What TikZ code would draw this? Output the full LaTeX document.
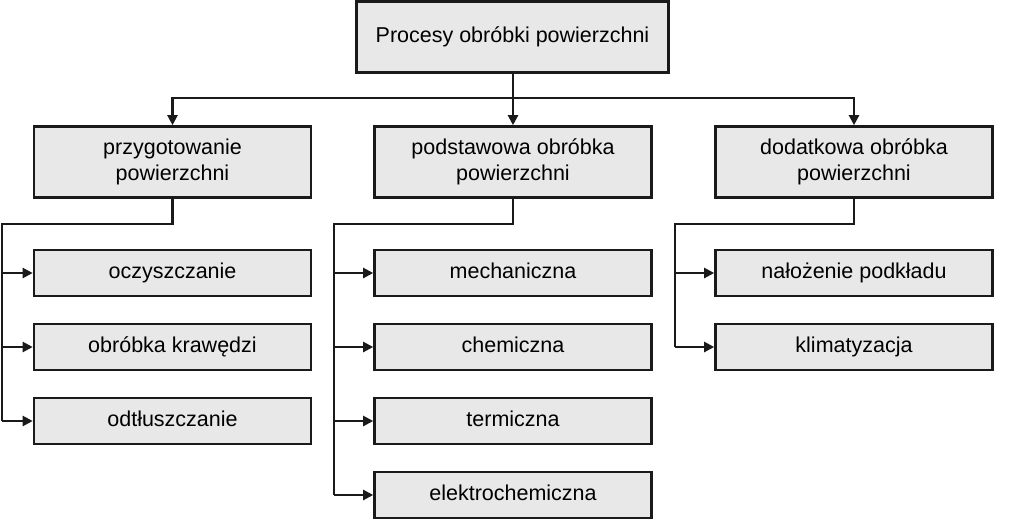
\documentclass[tikz,border=0pt]{standalone}
\usepackage{fontspec}
\setmainfont{Liberation Sans}
\usetikzlibrary{arrows.meta, positioning, calc}
\definecolor{BoxGray}{HTML}{E8E8E8}
\definecolor{LineBlack}{HTML}{1A1A1A}
\tikzset{
    % Box styles with sharp corners
    process box/.style={
        rectangle,
        draw=LineBlack,
        fill=BoxGray,
        line width=2.6pt,
        minimum width=277pt,
        minimum height=71pt,
        inner sep=0pt,
        align=center,
        font=\fontsize{21.5}{25.5}\selectfont
    },
    top box/.style={
        process box,
        minimum width=312pt,
        text height=15.5pt,
        text depth=4.5pt
    },
    leaf box/.style={
        process box,
        minimum height=46pt,
        text height=15.5pt,
        text depth=4.5pt
    },
    line style/.style={
        line width=2.2pt,
        LineBlack
    },
    arrow style/.style={
        line style,
        -{Triangle[length=10pt, width=10pt]}
    }
}
\begin{document}
\begin{tikzpicture}[x=1pt, y=-1pt]
        \useasboundingbox (0,0) rectangle (1024,528);

        % Main process
        \node[top box] (proc) at (512.5, 37) {Procesy obróbki powierzchni};

        % Second level
        \node[process box] (prep) at (172.5, 162) {przygotowanie\\powierzchni};
        \node[process box] (basic) at (513, 162) {podstawowa obróbka\\powierzchni};
        \node[process box] (extra) at (854, 162) {dodatkowa obróbka\\powierzchni};

        % Leaves of przygotowanie
        \node[leaf box] (clean) at (172.5, 273) {oczyszczanie};
        \node[leaf box] (edge) at (172.5, 347) {obróbka krawędzi};
        \node[leaf box] (degrease) at (172.5, 421) {odtłuszczanie};

        % Leaves of podstawowa
        \node[leaf box] (mech) at (513, 273) {mechaniczna};
        \node[leaf box] (chem) at (513, 347) {chemiczna};
        \node[leaf box] (therm) at (513, 421) {termiczna};
        \node[leaf box] (elchem) at (513, 495) {elektrochemiczna};

        % Leaves of dodatkowa
        \node[leaf box] (primer) at (854, 273) {nałożenie podkładu};
        \node[leaf box] (climate) at (854, 347) {klimatyzacja};

        % Bus lines
        \coordinate (procbus) at (513, 98);
        \coordinate (prepbus) at (2, 224);
        \coordinate (basicbus) at (334, 224);
        \coordinate (extrabus) at (675, 224);

        % Top level arrows
        \draw[line style] (proc.south -| procbus) -- (procbus);
        \draw[arrow style] (procbus) -| (prep.north);
        \draw[arrow style] (procbus) -- (basic.north);
        \draw[arrow style] (procbus) -| (extra.north);

        % Branch of przygotowanie
        \draw[line style] (prep.south) |- (prepbus) -- (prepbus |- degrease.west);
        \draw[arrow style] (prepbus |- clean.west) -- (clean.west);
        \draw[arrow style] (prepbus |- edge.west) -- (edge.west);
        \draw[arrow style] (prepbus |- degrease.west) -- (degrease.west);

        % Branch of podstawowa
        \draw[line style] (basic.south) |- (basicbus) -- (basicbus |- elchem.west);
        \draw[arrow style] (basicbus |- mech.west) -- (mech.west);
        \draw[arrow style] (basicbus |- chem.west) -- (chem.west);
        \draw[arrow style] (basicbus |- therm.west) -- (therm.west);
        \draw[arrow style] (basicbus |- elchem.west) -- (elchem.west);

        % Branch of dodatkowa
        \draw[line style] (extra.south) |- (extrabus) -- (extrabus |- climate.west);
        \draw[arrow style] (extrabus |- primer.west) -- (primer.west);
        \draw[arrow style] (extrabus |- climate.west) -- (climate.west);
\end{tikzpicture}
\end{document}
